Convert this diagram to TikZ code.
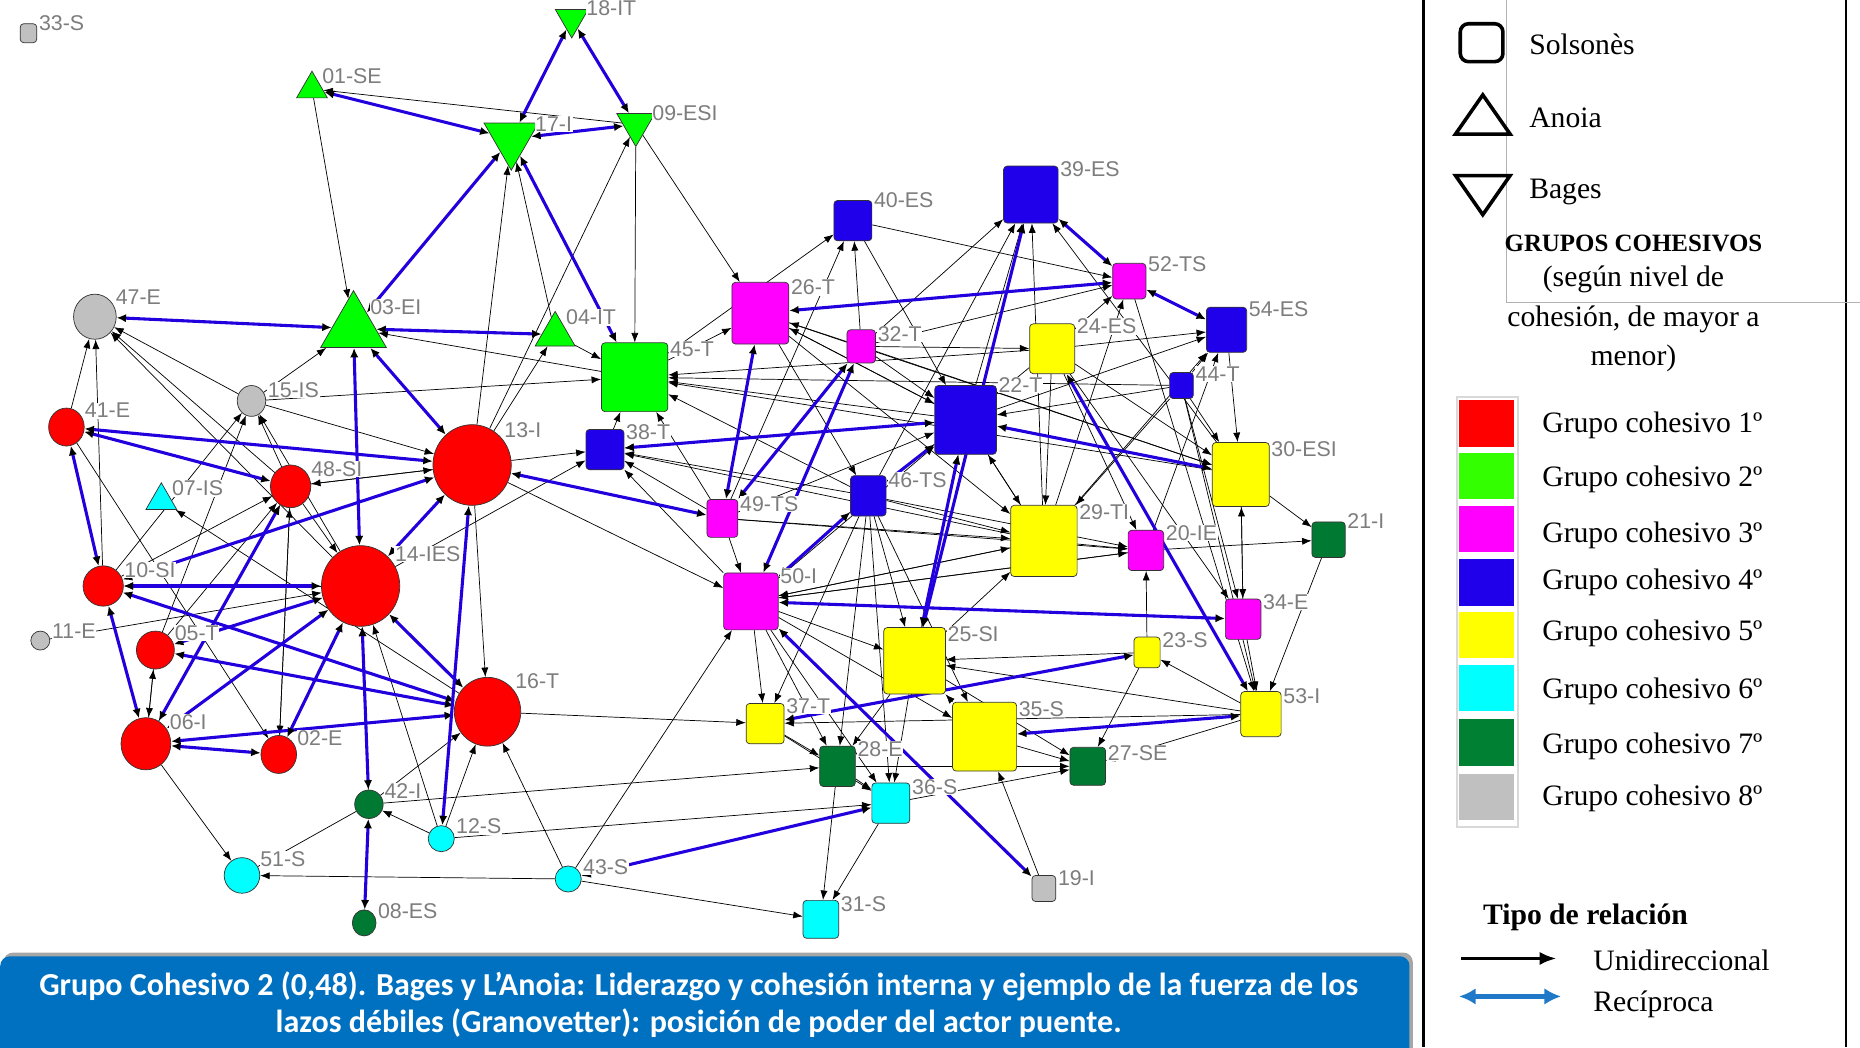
\documentclass[tikz,border=0pt]{standalone}
\usepackage{fontspec}
\setmainfont{Liberation Serif}
\newfontfamily\lblfont{Liberation Sans}
\newfontfamily\capfont{Carlito}
\usepackage{xcolor}
\usetikzlibrary{arrows.meta,shapes.geometric,positioning}

\definecolor{cred}{RGB}{255,0,0}
\definecolor{cgreen}{RGB}{0,255,0}
\definecolor{cmag}{RGB}{255,0,255}
\definecolor{cblue}{RGB}{32,0,235}
\definecolor{cyel}{RGB}{255,255,0}
\definecolor{ccyan}{RGB}{0,255,255}
\definecolor{cdkgreen}{RGB}{0,122,51}
\definecolor{cgray}{RGB}{192,192,192}
\definecolor{tieblue}{RGB}{34,0,221}
\definecolor{lblgray}{RGB}{125,125,125}
\definecolor{capblue}{RGB}{0,112,192}
\definecolor{keyblue}{RGB}{31,120,200}

\pgfdeclarelayer{ties}
\pgfsetlayers{ties,main}

\tikzset{
  actor/.style={draw=black!80,line width=0.6pt,inner sep=0pt},
  sq/.style={actor,rectangle,rounded corners=3pt},
  ell/.style={actor,ellipse},
  tup/.style={actor,regular polygon,regular polygon sides=3},
  tdn/.style={tup,shape border rotate=180},
  lbl/.style={font=\lblfont\fontsize{18}{18}\selectfont,text=lblgray,fill=white,inner sep=0.5pt,label distance=1pt},
  uni/.style={draw=black,line width=0.6pt,-{Latex[length=8pt,width=6pt]}},
  recip/.style={draw=tieblue,line width=2.6pt,{Latex[black,length=8pt,width=7pt]}-{Latex[black,length=8pt,width=7pt]}},
  keytxt/.style={font=\fontsize{25}{25}\selectfont,anchor=west,inner sep=0pt},
  swatch/.style={minimum width=46pt,minimum height=39pt,inner sep=0pt}
}

\begin{document}
\begin{tikzpicture}[x=1pt,y=-1pt,>=Latex]
  \useasboundingbox (0,0) rectangle (1568,883);

  % actors: Anoia / Bages (triangles)
  \node[tup,fill=cgreen,minimum size=30pt,label={[lbl]25:01-SE}] (n01) at (263,75) {};
  \node[tdn,fill=cgreen,minimum size=32pt,label={[lbl]10:18-IT}] (n18) at (482,16) {};
  \node[tdn,fill=cgreen,minimum size=53pt,label={[lbl]15:17-I}] (n17) at (431,117) {};
  \node[tdn,fill=cgreen,minimum size=37pt,label={[lbl]10:09-ESI}] (n09) at (536,105) {};
  \node[tup,fill=cgreen,minimum size=64pt,label={[lbl]40:03-EI}] (n03) at (298,277) {};
  \node[tup,fill=cgreen,minimum size=39pt,label={[lbl]40:04-IT}] (n04) at (468,282) {};
  \node[tup,fill=ccyan,minimum size=30pt,label={[lbl]20:07-IS}] (n07) at (136,422) {};
  % actors: circles
  \node[ell,fill=cgray,minimum width=36pt,minimum height=38pt,label={[lbl]30:47-E}] (n47) at (80,267) {};
  \node[ell,fill=cgray,minimum width=24pt,minimum height=26pt,label={[lbl]10:15-IS}] (n15) at (212,338) {};
  \node[ell,fill=cred,minimum width=30pt,minimum height=32pt,label={[lbl]25:41-E}] (n41) at (56,360) {};
  \node[ell,fill=cred,minimum width=66pt,minimum height=68pt,label={[lbl]40:13-I}] (n13) at (398,392) {};
  \node[ell,fill=cred,minimum width=34pt,minimum height=36pt,label={[lbl]25:48-SI}] (n48) at (245,410) {};
  \node[ell,fill=cred,minimum width=66pt,minimum height=68pt,label={[lbl]35:14-IES}] (n14) at (304,494) {};
  \node[ell,fill=cred,minimum width=34pt,minimum height=34pt,label={[lbl]20:10-SI}] (n10) at (87,494) {};
  \node[ell,fill=cgray,minimum width=16pt,minimum height=16pt,label={[lbl]5:11-E}] (n11) at (34,540) {};
  \node[ell,fill=cred,minimum width=32pt,minimum height=32pt,label={[lbl]25:05-T}] (n05) at (131,548) {};
  \node[ell,fill=cred,minimum width=56pt,minimum height=58pt,label={[lbl]40:16-T}] (n16) at (411,600) {};
  \node[ell,fill=cred,minimum width=42pt,minimum height=44pt,label={[lbl]30:06-I}] (n06) at (123,627) {};
  \node[ell,fill=cred,minimum width=30pt,minimum height=32pt,label={[lbl]25:02-E}] (n02) at (235,636) {};
  \node[ell,fill=cdkgreen,minimum width=24pt,minimum height=24pt,label={[lbl]20:42-I}] (n42) at (311,678) {};
  \node[ell,fill=ccyan,minimum width=22pt,minimum height=22pt,label={[lbl]15:12-S}] (n12) at (372,707) {};
  \node[ell,fill=ccyan,minimum width=30pt,minimum height=30pt,label={[lbl]25:51-S}] (n51) at (204,738) {};
  \node[ell,fill=ccyan,minimum width=22pt,minimum height=22pt,label={[lbl]15:43-S}] (n43) at (479,741) {};
  \node[ell,fill=cdkgreen,minimum width=20pt,minimum height=22pt,label={[lbl]15:08-ES}] (n08) at (307,778) {};
  % actors: Solsones (squares)
  \node[sq,fill=cgray,minimum width=14pt,minimum height=16pt,label={[lbl]10:33-S}] (n33) at (24,28) {};
  \node[sq,fill=cgreen,minimum width=56pt,minimum height=58pt,label={[lbl]30:45-T}] (n45) at (535,318) {};
  \node[sq,fill=cblue,minimum width=32pt,minimum height=34pt,label={[lbl]25:38-T}] (n38) at (510,379) {};
  \node[sq,fill=cblue,minimum width=32pt,minimum height=34pt,label={[lbl]30:40-ES}] (n40) at (719,186) {};
  \node[sq,fill=cblue,minimum width=46pt,minimum height=48pt,label={[lbl]30:39-ES}] (n39) at (869,164) {};
  \node[sq,fill=cmag,minimum width=48pt,minimum height=52pt,label={[lbl]30:26-T}] (n26) at (641,264) {};
  \node[sq,fill=cmag,minimum width=28pt,minimum height=30pt,label={[lbl]25:52-TS}] (n52) at (952,237) {};
  \node[sq,fill=cblue,minimum width=34pt,minimum height=38pt,label={[lbl]30:54-ES}] (n54) at (1034,278) {};
  \node[sq,fill=cmag,minimum width=24pt,minimum height=28pt,label={[lbl]15:32-T}] (n32) at (726,292) {};
  \node[sq,fill=cyel,minimum width=38pt,minimum height=42pt,label={[lbl]30:24-ES}] (n24) at (887,294) {};
  \node[sq,fill=cblue,minimum width=20pt,minimum height=22pt,label={[lbl]15:44-T}] (n44) at (996,325) {};
  \node[sq,fill=cblue,minimum width=52pt,minimum height=58pt,label={[lbl]40:22-T}] (n22) at (814,354) {};
  \node[sq,fill=cyel,minimum width=48pt,minimum height=54pt,label={[lbl]30:30-ESI}] (n30) at (1046,400) {};
  \node[sq,fill=cblue,minimum width=30pt,minimum height=34pt,label={[lbl]20:46-TS}] (n46) at (732,418) {};
  \node[sq,fill=cmag,minimum width=26pt,minimum height=32pt,label={[lbl]20:49-TS}] (n49) at (609,437) {};
  \node[sq,fill=cyel,minimum width=56pt,minimum height=60pt,label={[lbl]30:29-TI}] (n29) at (880,456) {};
  \node[sq,fill=cmag,minimum width=30pt,minimum height=34pt,label={[lbl]25:20-IE}] (n20) at (966,464) {};
  \node[sq,fill=cdkgreen,minimum width=28pt,minimum height=30pt,label={[lbl]30:21-I}] (n21) at (1120,455) {};
  \node[sq,fill=cmag,minimum width=46pt,minimum height=48pt,label={[lbl]30:50-I}] (n50) at (633,507) {};
  \node[sq,fill=cmag,minimum width=30pt,minimum height=34pt,label={[lbl]25:34-E}] (n34) at (1048,522) {};
  \node[sq,fill=cyel,minimum width=52pt,minimum height=56pt,label={[lbl]30:25-SI}] (n25) at (771,557) {};
  \node[sq,fill=cyel,minimum width=22pt,minimum height=26pt,label={[lbl]15:23-S}] (n23) at (967,550) {};
  \node[sq,fill=cyel,minimum width=32pt,minimum height=34pt,label={[lbl]25:37-T}] (n37) at (645,610) {};
  \node[sq,fill=cyel,minimum width=54pt,minimum height=58pt,label={[lbl]30:35-S}] (n35) at (830,621) {};
  \node[sq,fill=cyel,minimum width=34pt,minimum height=38pt,label={[lbl]25:53-I}] (n53) at (1063,602) {};
  \node[sq,fill=cdkgreen,minimum width=30pt,minimum height=34pt,label={[lbl]25:28-E}] (n28) at (706,646) {};
  \node[sq,fill=cdkgreen,minimum width=30pt,minimum height=32pt,label={[lbl]15:27-SE}] (n27) at (917,646) {};
  \node[sq,fill=ccyan,minimum width=32pt,minimum height=34pt,label={[lbl]20:36-S}] (n36) at (751,677) {};
  \node[sq,fill=cgray,minimum width=20pt,minimum height=22pt,label={[lbl]10:19-I}] (n19) at (880,749) {};
  \node[sq,fill=ccyan,minimum width=30pt,minimum height=32pt,label={[lbl]20:31-S}] (n31) at (692,775) {};

  \begin{pgfonlayer}{ties}
    % unidirectional ties
    \draw[uni] (n09) edge (n01) (n01) edge (n03) (n09) edge (n45) (n09) edge (n26) (n04) edge (n17)
      (n13) edge (n17) (n13) edge (n09) (n45) edge (n03) (n04) edge (n45) (n15) edge (n03)
      (n15) edge (n45) (n15) edge (n47) (n15) edge (n13) (n48) edge (n15) (n14) edge (n15)
      (n10) edge (n15) (n05) edge (n15) (n13) edge (n04) (n41) edge (n47) (n10) edge (n47)
      (n48) edge (n47) (n14) edge (n47) (n45) edge (n40) (n32) edge (n39) (n40) edge (n52)
      (n40) edge (n22) (n32) edge (n40) (n49) edge (n40) (n32) edge (n26) (n45) edge (n26)
      (n26) edge (n22) (n22) edge (n26) (n32) edge (n24) (n32) edge (n52) (n22) edge (n45)
      (n24) edge (n45) (n46) edge (n45) (n30) edge (n45) (n44) edge (n45) (n49) edge (n45)
      (n38) edge (n45) (n13) edge (n38) (n49) edge (n38) (n46) edge (n38) (n50) edge (n38)
      (n46) edge (n39) (n22) edge (n39) (n29) edge (n39) (n25) edge (n39) (n30) edge (n39)
      (n24) edge (n52) (n29) edge (n52) (n24) edge (n54) (n44) edge (n54) (n22) edge (n54)
      (n29) edge (n54) (n20) edge (n54) (n54) edge (n30) (n44) edge (n22) (n44) edge (n29)
      (n44) edge (n30) (n44) edge (n34) (n24) edge (n22) (n24) edge (n30) (n24) edge (n29)
      (n24) edge (n20) (n24) edge (n34) (n22) edge (n29) (n22) edge (n46) (n30) edge (n21)
      (n30) edge (n34) (n34) edge (n30) (n20) edge (n21) (n29) edge (n20) (n21) edge (n53)
      (n34) edge (n53) (n44) edge (n53) (n52) edge (n53) (n46) edge (n29) (n46) edge (n20)
      (n46) edge (n25) (n46) edge (n35) (n46) edge (n37) (n46) edge (n28) (n46) edge (n36)
      (n46) edge (n50) (n49) edge (n50) (n49) edge (n29) (n49) edge (n20) (n49) edge (n22)
      (n50) edge (n37) (n50) edge (n28) (n50) edge (n36) (n50) edge (n25) (n50) edge (n35)
      (n50) edge (n29) (n50) edge (n20) (n50) edge (n22) (n20) edge (n50) (n29) edge (n50)
      (n25) edge (n29) (n23) edge (n25) (n53) edge (n25) (n25) edge (n36) (n25) edge (n28)
      (n23) edge (n20) (n53) edge (n23) (n23) edge (n27) (n53) edge (n27) (n35) edge (n27)
      (n36) edge (n27) (n28) edge (n27) (n19) edge (n35) (n28) edge (n31) (n36) edge (n31)
      (n43) edge (n31) (n12) edge (n36) (n42) edge (n28) (n43) edge (n50) (n43) edge (n51)
      (n43) edge (n16) (n16) edge (n37) (n13) edge (n16) (n13) edge (n50) (n14) edge (n38)
      (n12) edge (n16) (n12) edge (n42) (n12) edge (n14) (n42) edge (n16) (n42) edge (n14)
      (n06) edge (n51) (n06) edge (n05) (n05) edge (n06) (n05) edge (n48) (n06) edge (n48)
      (n02) edge (n48) (n48) edge (n02) (n16) edge (n07) (n10) edge (n48) (n11) edge (n14)
      (n41) edge (n02) (n48) edge (n14) (n48) edge (n13) (n13) edge (n48) (n14) edge (n10)
      (n35) edge (n25) (n28) edge (n36) (n37) edge (n28) (n37) edge (n36) (n32) edge (n22)
      (n26) edge (n46) (n26) edge (n29) (n26) edge (n30) (n32) edge (n30) (n25) edge (n22)
      (n29) edge (n22) (n22) edge (n38) (n29) edge (n38) (n53) edge (n37) (n25) edge (n27);
    \draw[draw=black,line width=0.6pt] (n51) -- (n42);
    % reciprocal ties
    \draw[recip] (n18) edge (n17) (n18) edge (n09) (n01) edge (n17) (n17) edge (n09) (n17) edge (n03)
      (n17) edge (n45) (n47) edge (n03) (n03) edge (n04) (n03) edge (n13) (n03) edge (n14)
      (n41) edge (n13) (n41) edge (n48) (n41) edge (n10) (n10) edge (n06) (n10) edge (n14)
      (n10) edge (n16) (n10) edge (n13) (n05) edge (n16) (n05) edge (n14) (n48) edge (n06)
      (n06) edge (n14) (n06) edge (n02) (n06) edge (n16) (n02) edge (n14) (n14) edge (n13)
      (n14) edge (n16) (n14) edge (n42) (n42) edge (n08) (n13) edge (n12) (n13) edge (n49)
      (n38) edge (n22) (n26) edge (n52) (n26) edge (n49) (n32) edge (n49) (n32) edge (n50)
      (n46) edge (n50) (n46) edge (n22) (n39) edge (n25) (n39) edge (n52) (n52) edge (n54)
      (n22) edge (n30) (n22) edge (n25) (n24) edge (n53) (n50) edge (n34) (n50) edge (n19)
      (n37) edge (n23) (n35) edge (n53) (n43) edge (n36);
  \end{pgfonlayer}

  % caption bar
  \fill[black!35,rounded corners=8pt] (3,803) rectangle (1191,900);
  \node[fill=capblue,rounded corners=8pt,minimum width=1188pt,minimum height=94pt,anchor=north west,inner sep=0pt] (bar) at (0,806) {};
  \node[font=\capfont\bfseries\fontsize{27}{31}\selectfont,text=white,align=center] (caption) at (589,847)
    {Grupo Cohesivo 2 (0,48). Bages y L’Anoia: Liderazgo y cohesión interna y ejemplo de la fuerza de los\\
     lazos débiles (Granovetter): posición de poder del actor puente.};

  % legend frame
  \draw[black,line width=2pt] (1200,0) -- (1200,883);
  \draw[black,line width=2pt] (1556,0) -- (1556,883);
  \draw[black!30,line width=0.6pt] (1270,0) -- (1270,255) -- (1568,255);

  % legend: regions
  \node[draw,line width=3pt,rounded corners=7pt,minimum width=36pt,minimum height=32pt] (kSol) at (1249,36) {};
  \node[keytxt] (tSol) at (1289,37) {Solsonès};
  \draw[line width=3pt,line join=miter] (1227,113) -- (1273,113) -- (1250,80) -- cycle;
  \node[keytxt] (tAno) at (1289,99) {Anoia};
  \draw[line width=3pt,line join=miter] (1227,148) -- (1273,148) -- (1250,181) -- cycle;
  \node[keytxt] (tBag) at (1289,162) {Bages};
  \node[font=\bfseries\fontsize{21}{21}\selectfont] (tGrp) at (1377,205) {GRUPOS COHESIVOS};
  \node[font=\fontsize{25}{33}\selectfont,align=center,anchor=north] (tNiv) at (1377,221) {(según nivel de\\cohesión, de mayor a\\menor)};

  % legend: cohesive groups
  \draw[black!15,line width=1.5pt] (1228,335) rectangle (1280,697);
  \node[swatch,fill=cred] (s1) at (1253,357) {};
  \node[swatch,fill={rgb,255:red,51;green,255;blue,0}] (s2) at (1253,401) {};
  \node[swatch,fill=cmag] (s3) at (1253,446) {};
  \node[swatch,fill=cblue] (s4) at (1253,491) {};
  \node[swatch,fill=cyel] (s5) at (1253,535) {};
  \node[swatch,fill=ccyan] (s6) at (1253,580) {};
  \node[swatch,fill={rgb,255:red,0;green,128;blue,51}] (s7) at (1253,626) {};
  \node[swatch,fill=cgray] (s8) at (1253,672) {};
  \node[keytxt] (g1) at (1300,359) {Grupo cohesivo 1º};
  \node[keytxt] (g2) at (1300,404) {Grupo cohesivo 2º};
  \node[keytxt] (g3) at (1300,451) {Grupo cohesivo 3º};
  \node[keytxt] (g4) at (1300,491) {Grupo cohesivo 4º};
  \node[keytxt] (g5) at (1300,534) {Grupo cohesivo 5º};
  \node[keytxt] (g6) at (1300,583) {Grupo cohesivo 6º};
  \node[keytxt] (g7) at (1300,629) {Grupo cohesivo 7º};
  \node[keytxt] (g8) at (1300,673) {Grupo cohesivo 8º};

  % legend: type of tie
  \node[keytxt,font=\bfseries\fontsize{25}{25}\selectfont] (tTipo) at (1250,773) {Tipo de relación};
  \coordinate (u1) at (1232,808);
  \coordinate (u2) at (1312,808);
  \draw[line width=2.5pt,-{Latex[length=14pt,width=11pt]}] (u1) -- (u2);
  \node[keytxt] (tUni) at (1343,810) {Unidireccional};
  \coordinate (r1) at (1230,840);
  \coordinate (r2) at (1316,840);
  \draw[keyblue,line width=4pt,{Latex[length=14pt,width=14pt]}-{Latex[length=14pt,width=14pt]}] (r1) -- (r2);
  \node[keytxt] (tRec) at (1343,847) {Recíproca};
\end{tikzpicture}
\end{document}
